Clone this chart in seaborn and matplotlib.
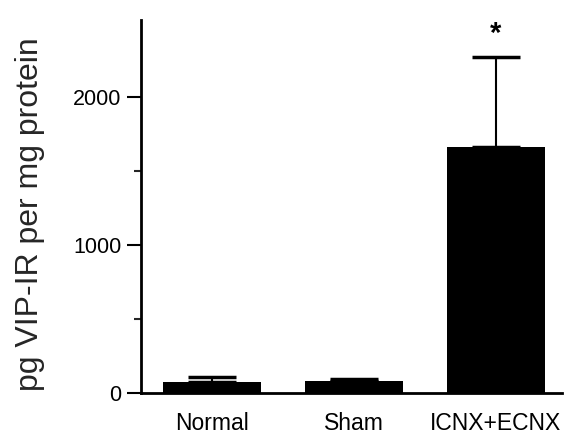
import matplotlib
matplotlib.use("Agg")
import matplotlib.pyplot as plt
import seaborn as sns
import pandas as pd
import numpy as np
from matplotlib.ticker import FixedLocator

groups = ["Normal", "Sham", "ICNX+ECNX"]
means = [75, 80, 1660]
sem_up = [30, 12, 610]
y_major = [0, 1000, 2000]
y_minor = [500, 1500]
star_label = "*"

sns.set_theme(style="ticks")
plt.rcParams['font.family'] = ['Liberation Sans', 'DejaVu Sans']

df = pd.DataFrame({"group": groups, "value": means})

fig = plt.figure(figsize=(5.64, 4.38), dpi=100)
ax = fig.add_axes([0.25, 0.103, 0.747, 0.851])

sns.barplot(data=df, x="group", y="value", color="black", width=0.69,
            errorbar=None, saturation=1, ax=ax, edgecolor="black", linewidth=0)

ax.errorbar(range(len(groups)), means, yerr=[np.zeros(len(groups)), sem_up],
            fmt="none", ecolor="black", elinewidth=1.5, capsize=17.5, capthick=2.5,
            zorder=1)

ax.text(2, 2430, star_label, ha="center", va="center", fontsize=21,
        fontweight="bold", color="black")

ax.set_xlim(-0.5, 2.47)
ax.set_ylim(0, 2520)
ax.yaxis.set_major_locator(FixedLocator(y_major))
ax.yaxis.set_minor_locator(FixedLocator(y_minor))
ax.set_yticklabels([str(v) for v in y_major])
ax.tick_params(axis="y", which="major", length=10, width=1.5, labelsize=15.5,
               pad=4, colors="black")
ax.tick_params(axis="y", which="minor", length=5, width=1.5)
ax.tick_params(axis="x", length=0, labelsize=16.5, pad=14, colors="black")
ax.set_xlabel("")
ax.set_ylabel("pg VIP-IR per mg protein", fontsize=23)
ax.yaxis.set_label_coords(-0.228, 0.48)

for s in ["top", "right"]:
    ax.spines[s].set_visible(False)
for s in ["left", "bottom"]:
    ax.spines[s].set_linewidth(2)
    ax.spines[s].set_color("black")

fig.savefig("out.png", dpi=100)
